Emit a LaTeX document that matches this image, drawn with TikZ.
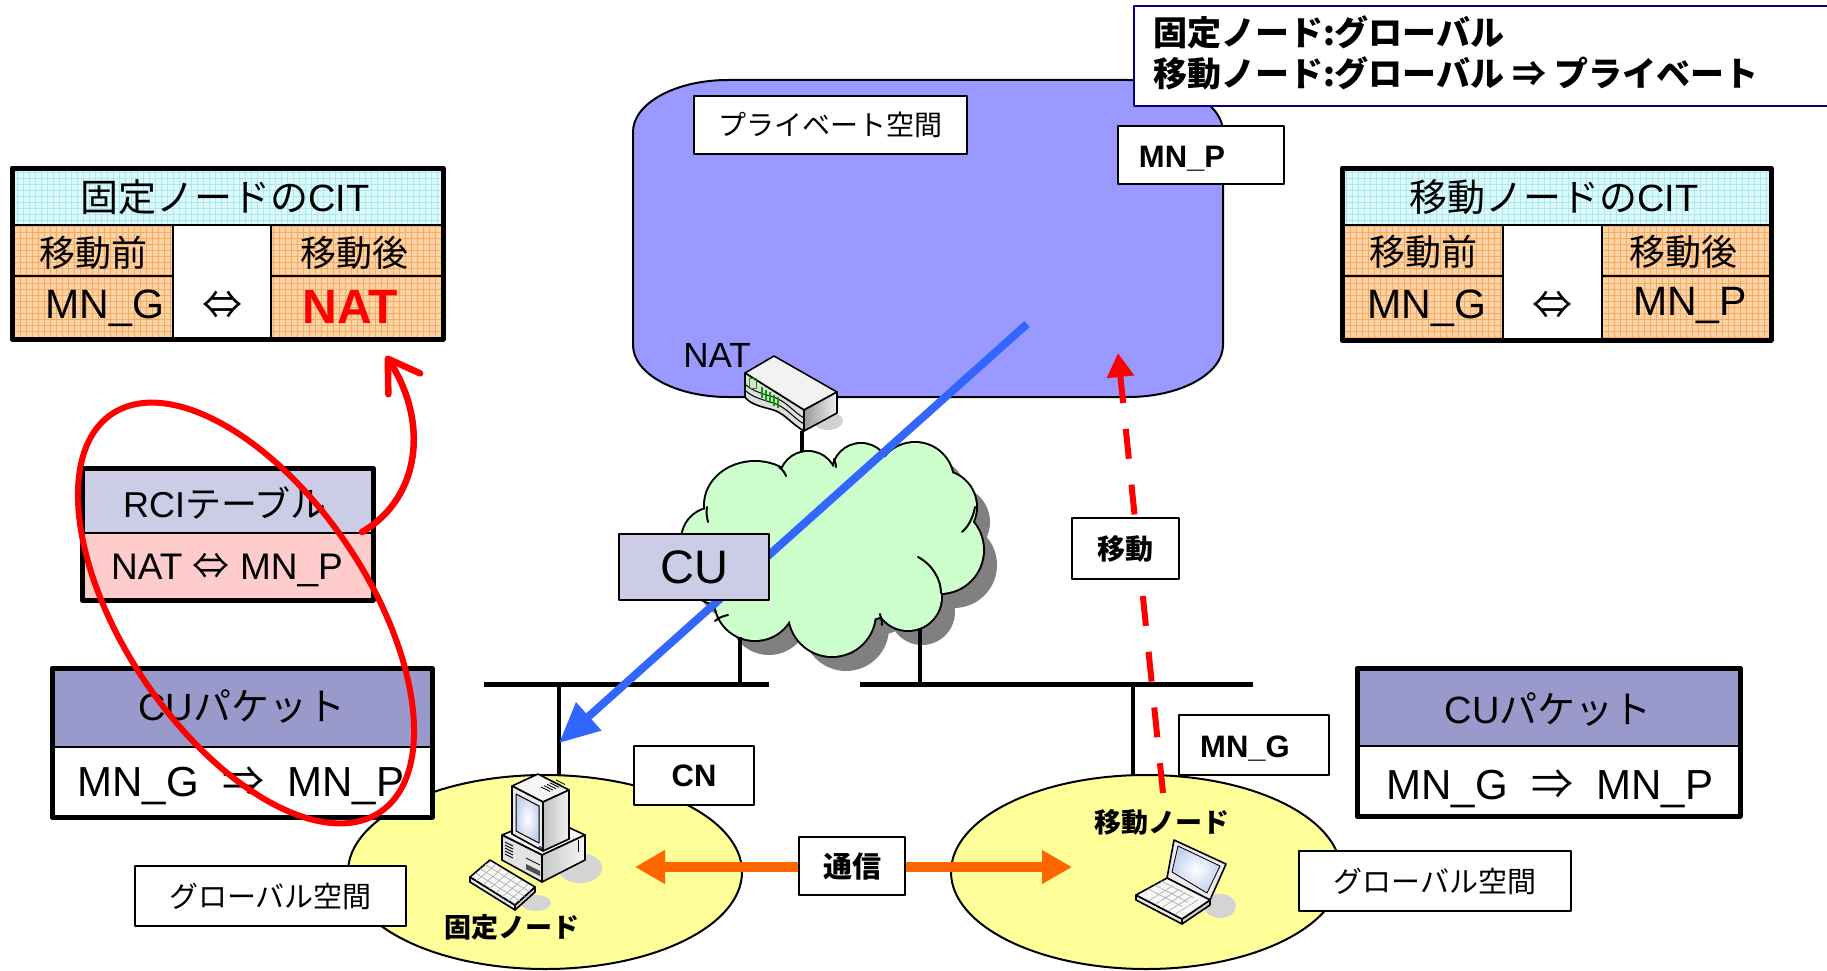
\documentclass[tikz,border=0pt]{standalone}
\usepackage{fontspec}
\setmainfont{Liberation Sans}
\newfontfamily\jp{Noto Sans CJK JP}
\usetikzlibrary{arrows.meta,shapes.geometric}

\definecolor{pvtblue}{HTML}{9999FF}
\definecolor{cloudgreen}{HTML}{CCFFCC}
\definecolor{shadowgray}{HTML}{808080}
\definecolor{lavender}{HTML}{CCCCE6}
\definecolor{hdrblue}{HTML}{9999CC}
\definecolor{rosepink}{HTML}{FFCCCC}
\definecolor{cellcyan}{HTML}{DAFDFD}
\definecolor{gridcyan}{HTML}{B5E3EE}
\definecolor{cellorange}{HTML}{FDD3A8}
\definecolor{gridorange}{HTML}{F7A95E}
\definecolor{spaceyellow}{HTML}{FFFF99}
\definecolor{linkorange}{HTML}{FF6600}
\definecolor{cublue}{HTML}{3366FF}
\definecolor{infonavy}{HTML}{000080}
\definecolor{screenblue}{HTML}{C4D2EE}
\definecolor{ledgreen}{HTML}{00A000}

\newcommand\myfs[1]{\fontsize{#1pt}{#1pt}\selectfont}
% puffs of the network cloud (union of circles)
\newcommand\cloudpuffs{(755,505) ellipse [x radius=50, y radius=43]
  (808,480) circle [radius=28] (861,472) circle [radius=28]
  (915,481) circle [radius=38] (940,507) circle [radius=36]
  (940,550) circle [radius=43] (908,597) circle [radius=33]
  (832,613) circle [radius=43] (755,600) circle [radius=40]
  (720,568) circle [radius=36] (714,540) circle [radius=32]
  (830,550) ellipse [x radius=110, y radius=75]}

\tikzset{
  tag/.style={draw, line width=2pt, fill=white, inner sep=0pt, outer sep=0pt},
  txt/.style={inner sep=0pt, outer sep=0pt},
  cell/.style={draw, line width=2.5pt, inner sep=0pt, outer sep=0pt},
  gridded/.style={path picture={\draw[#1, line width=0.6pt, step=6pt]
      (path picture bounding box.south west) grid (path picture bounding box.north east);}},
  frame/.style={draw, line width=5pt, inner sep=0pt, outer sep=0pt},
  icon/.style={draw=black, line width=1.6pt, line join=round},
  bus/.style={line width=5pt},
  crease/.style={line width=2pt, line cap=round},
}

\begin{document}
\begin{tikzpicture}[x=1pt, y=-1pt, line join=round]
\useasboundingbox (0,0) rectangle (1827,971);

% ---------- private address space ----------
\path[draw, line width=2pt, fill=pvtblue]
  (633,132) .. controls (633,103.3) and (675.5,80) .. (728,80)
  -- (1128,80) .. controls (1180.5,80) and (1223,103.3) .. (1223,132)
  -- (1223,345) .. controls (1223,373.7) and (1180.5,397) .. (1128,397)
  -- (728,397) .. controls (675.5,397) and (633,373.7) .. (633,345) -- cycle;

% ---------- address summary ----------
\node[draw=infonavy, line width=2pt, fill=white, minimum width=710pt, minimum height=100pt,
      inner sep=0pt, anchor=north west] (info) at (1133,5) {};
\node[txt, anchor=west, font=\jp\bfseries\myfs{34}] (infoA) at (1153,32) {固定ノード:グローバル};
\node[txt, anchor=west, font=\jp\bfseries\myfs{34}] (infoB) at (1153,73) {移動ノード:グローバル ⇒ プライベート};

\node[tag, minimum width=273pt, minimum height=58pt, font=\jp\myfs{28}] (pvt) at (830.5,125) {プライベート空間};
\node[tag, minimum width=166pt, minimum height=58pt] (mnpbox) at (1201,155) {};
\node[txt, anchor=base, font=\bfseries\myfs{31}] (mnp) at (1182,167) {MN\_P};

% ---------- network cloud ----------
\fill[shadowgray, shift={(14,15)}] \cloudpuffs;
\draw[line width=4pt] \cloudpuffs;
\fill[cloudgreen] \cloudpuffs;
\draw[crease] (779,467) .. controls (783,470) and (785,473) .. (786,476);
\draw[crease] (834,459) .. controls (835,462) and (836,464) .. (836,467);
\draw[crease] (975,507) .. controls (973,518) and (968,527) .. (962,532);
\draw[crease] (918,557) .. controls (933,565) and (941,580) .. (941,593);
\draw[crease] (880,614) .. controls (881,618) and (882,621) .. (882,625);
\draw[crease] (728,615) .. controls (723,616) and (718,618) .. (715,621);
\draw[crease] (707,507) .. controls (706,512) and (707,518) .. (708,522);

% ---------- NAT router ----------
\fill[black!18] (828,421) ellipse [x radius=15, y radius=9];
\filldraw[icon, fill=black!5] (745,373) -- (774,356) -- (837,392) -- (804,410) -- cycle;
\filldraw[icon, left color=black!40, right color=black!6] (804,410) -- (837,392) -- (837,413) -- (804,431) -- cycle;
\filldraw[icon, fill=black!13] (745,373) -- (804,410) -- (804,431)
  .. controls (790,423) and (784,412) .. (770,409) .. controls (758,406) and (749,403) .. (745,397) -- cycle;
\draw[line width=1pt] (746,391) .. controls (751,396) and (760,399) .. (770,402) .. controls (786,406) and (792,417) .. (804,424);
\draw[line width=1pt] (746,385) .. controls (751,390) and (760,393) .. (770,396) .. controls (786,400) and (792,411) .. (804,418);
\draw[ledgreen, line width=1pt] (749,378) rectangle (756,388);
\foreach \i in {0,...,4}
  \draw[ledgreen, line width=1.2pt] ({762+4*\i},{387+2.5*\i}) -- ++(0,11);
\coordinate (rtr) at (802,431);
\coordinate (cldtop) at (802,452);
\draw[line width=4pt] (rtr) -- (cldtop);
\node[txt, font=\myfs{35}] (natlbl) at (717,355) {NAT};

% ---------- global address spaces ----------
\node[draw, line width=2pt, fill=spaceyellow, ellipse, minimum width=394pt, minimum height=194pt, inner sep=0pt] (fsp) at (545,872) {};
\node[draw, line width=2pt, fill=spaceyellow, ellipse, minimum width=390pt, minimum height=194pt, inner sep=0pt] (msp) at (1146,872) {};

% ---------- LAN segments ----------
\coordinate (busLa) at (484,684); \coordinate (busLb) at (769,684);
\coordinate (busRa) at (860,684); \coordinate (busRb) at (1253,684);
\draw[bus] (busLa) -- (busLb);
\draw[bus] (busRa) -- (busRb);
\coordinate (cldL) at (740,637); \coordinate (cldR) at (920,628);
\draw[line width=4pt] (cldL) -- (740,684);
\draw[line width=4pt] (cldR) -- (920,684);
\coordinate (dropL) at (559,684); \coordinate (fspTop) at (559,776);
\coordinate (dropR) at (1133,684); \coordinate (mspTop) at (1133,776);
\draw[line width=4pt] (dropL) -- (fspTop);
\draw[line width=4pt] (dropR) -- (mspTop);

% ---------- fixed node (desktop PC) ----------
\fill[black!17] (580,868) ellipse [x radius=22, y radius=15];
\fill[black!17] (536,903) ellipse [x radius=15, y radius=8];
\filldraw[icon, fill=black!4] (502,835) -- (546,817) -- (585,835) -- (542,855) -- cycle;
\filldraw[icon, fill=black!11] (502,835) -- (542,855) -- (542,882) -- (502,860) -- cycle;
\filldraw[icon, left color=black!22, right color=black!4] (542,855) -- (585,835) -- (585,860) -- (542,882) -- cycle;
\foreach \i in {0,...,4} \draw[line width=0.9pt] (505,{842+3*\i}) -- (513,{846+3*\i});
\fill[black!70] (526,864) -- (540,871) -- (540,876) -- (526,869) -- cycle;
\draw[line width=0.8pt] (526,858) -- (540,865);
\draw[line width=0.8pt] (578,840) -- (578,852);
\filldraw[icon, fill=black!4] (512,786) -- (538,774) -- (569,790) -- (543,802) -- cycle;
\filldraw[icon, left color=black!25, right color=black!5] (543,802) -- (569,790) -- (569,839) -- (543,851) -- cycle;
\filldraw[icon, fill=black!8] (512,786) -- (543,802) -- (543,851) -- (512,834) -- cycle;
\filldraw[draw=black, line width=1pt, inner color=white, outer color=screenblue] (516,794) -- (539,806) -- (539,843) -- (516,831) -- cycle;
\draw[line width=0.8pt] (540,848) circle [radius=1.6];
\foreach \i in {0,...,5} \draw[line width=0.8pt] ({541+3*\i},{787-1.4*\i}) -- ++(9,4.5);
\filldraw[icon, fill=black!10] (470,877) -- (515,905) -- (515,910) -- (470,882) -- cycle;
\filldraw[icon, fill=black!18] (515,905) -- (535,887) -- (535,892) -- (515,910) -- cycle;
\filldraw[icon, fill=black!3] (470,877) -- (490,860) -- (535,887) -- (515,905) -- cycle;
\foreach \i in {1,...,3} \draw[black!35, line width=0.6pt] ({470+5*\i},{877-4.25*\i}) -- ++(45,28);
\foreach \i in {1,...,6} \draw[black!35, line width=0.6pt] ({470+6.4*\i},{877+4*\i}) -- ++(20,-17);
\node[txt, font=\jp\bfseries\myfs{27}] (fixedlbl) at (512,927) {固定ノード};

% ---------- mobile node (laptop) ----------
\fill[black!17] (1220,906) ellipse [x radius=16, y radius=12];
\filldraw[icon, fill=black!8] (1167,878) -- (1174,840) -- (1226,864) -- (1210,900) -- cycle;
\fill[inner color=white, outer color=screenblue] (1172,872) -- (1178,846) -- (1220,866) -- (1207,893) -- cycle;
\draw[line width=0.8pt] (1172,872) -- (1178,846) -- (1220,866) -- (1207,893) -- cycle;
\filldraw[icon, fill=black!10] (1136,895) -- (1182,919) -- (1182,924) -- (1136,900) -- cycle;
\filldraw[icon, fill=black!20] (1182,919) -- (1210,900) -- (1210,905) -- (1182,924) -- cycle;
\filldraw[icon, fill=black!3] (1136,895) -- (1167,878) -- (1210,900) -- (1182,919) -- cycle;
\foreach \i in {1,...,3} \draw[black!35, line width=0.6pt] ({1142+6*\i},{893-4.2*\i}) -- ++(34,17.5);
\foreach \i in {1,...,5} \draw[black!35, line width=0.6pt] ({1143+6.5*\i},{897+3.4*\i}) -- ++(23,-14.5);
\node[txt, font=\jp\bfseries\myfs{27}] (mobilelbl) at (1162,822) {移動ノード};

% ---------- communication ----------
\coordinate (comL) at (635,867); \coordinate (comR) at (1072,867);
\draw[linkorange, line width=10pt, {Triangle[length=30pt,width=32pt]}-{Triangle[length=30pt,width=32pt]}] (comL) -- (comR);
\node[tag, minimum width=106pt, minimum height=58pt, font=\jp\bfseries\myfs{29}] (tsushin) at (852,866) {通信};

% ---------- CU message ----------
\coordinate (cuFrom) at (1027,324); \coordinate (cuTo) at (559,743);
\draw[cublue, line width=8pt, -{Triangle[length=40pt,width=36pt]}] (cuFrom) -- (cuTo);
\node[tag, fill=lavender, minimum width=150pt, minimum height=66pt, font=\myfs{47}] (cu) at (694,567) {CU};

% ---------- movement ----------
\coordinate (mvFrom) at (1163,793); \coordinate (mvTo) at (1118,353);
\draw[red, line width=6pt, dash pattern=on 30pt off 26pt, -{Triangle[length=24pt,width=26pt]}] (mvFrom) -- (mvTo);
\node[tag, minimum width=107pt, minimum height=61pt, font=\jp\bfseries\myfs{28}] (idou) at (1125.5,548.5) {移動};

% ---------- address labels ----------
\node[tag, minimum width=120pt, minimum height=59pt, font=\bfseries\myfs{31}] (cn) at (694,775.5) {CN};
\node[tag, minimum width=150pt, minimum height=60pt] (mngbox) at (1254,745) {};
\node[txt, anchor=base, font=\bfseries\myfs{31}] (mng) at (1245,757) {MN\_G};
\node[tag, minimum width=271pt, minimum height=60pt, font=\jp\myfs{29}] (gspL) at (270.5,896) {グローバル空間};
\node[tag, minimum width=272pt, minimum height=60pt, font=\jp\myfs{29}] (gspR) at (1435,881) {グローバル空間};

% ---------- CIT of the fixed node ----------
\node[cell, fill=cellcyan, gridded=gridcyan, minimum width=431pt, minimum height=57pt] (fcitHead) at (227.5,196.5) {};
\node[cell, fill=cellorange, gridded=gridorange, minimum width=161pt, minimum height=51pt] (fcitPreHd) at (92.5,250.5) {};
\node[cell, fill=white, minimum width=98pt, minimum height=114pt] (fcitMid) at (222,282) {};
\node[cell, fill=cellorange, gridded=gridorange, minimum width=172pt, minimum height=51pt] (fcitPostHd) at (357,250.5) {};
\node[cell, fill=cellorange, gridded=gridorange, minimum width=161pt, minimum height=63pt] (fcitPre) at (92.5,307.5) {};
\node[cell, fill=cellorange, gridded=gridorange, minimum width=172pt, minimum height=63pt] (fcitPost) at (357,307.5) {};
\node[frame, minimum width=431pt, minimum height=171pt] (fcit) at (227.5,253.5) {};
\node[txt, font=\jp\myfs{38}] (fcitT) at (225,197) {固定ノードの{\rmfamily CIT}};
\node[txt, font=\jp\myfs{36}] (fcitA) at (93,253) {移動前};
\node[txt, font=\jp\myfs{36}] (fcitB) at (354,253) {移動後};
\node[txt, anchor=base, font=\myfs{41}] (fcitC) at (105,318) {MN\_G};
\node[txt, font=\jp\myfs{40}] (fcitD) at (222,305) {⇔};
\node[txt, anchor=base, text=red, font=\bfseries\myfs{48}] (fcitE) at (350,323) {NAT};

% ---------- CIT of the mobile node ----------
\node[cell, fill=cellcyan, gridded=gridcyan, minimum width=429pt, minimum height=57pt] (mcitHead) at (1556.5,196.5) {};
\node[cell, fill=cellorange, gridded=gridorange, minimum width=161pt, minimum height=51pt] (mcitPreHd) at (1422.5,250.5) {};
\node[cell, fill=white, minimum width=99pt, minimum height=114pt] (mcitMid) at (1552.5,282) {};
\node[cell, fill=cellorange, gridded=gridorange, minimum width=169pt, minimum height=51pt] (mcitPostHd) at (1686.5,250.5) {};
\node[cell, fill=cellorange, gridded=gridorange, minimum width=161pt, minimum height=63pt] (mcitPre) at (1422.5,307.5) {};
\node[cell, fill=cellorange, gridded=gridorange, minimum width=169pt, minimum height=63pt] (mcitPost) at (1686.5,307.5) {};
\node[frame, minimum width=429pt, minimum height=172pt] (mcit) at (1556.5,254) {};
\node[txt, font=\jp\myfs{38}] (mcitT) at (1554,197) {移動ノードの{\rmfamily CIT}};
\node[txt, font=\jp\myfs{36}] (mcitA) at (1423,252) {移動前};
\node[txt, font=\jp\myfs{36}] (mcitB) at (1683,252) {移動後};
\node[txt, anchor=base, font=\myfs{41}] (mcitC) at (1427,318) {MN\_G};
\node[txt, font=\jp\myfs{40}] (mcitD) at (1552,305) {⇔};
\node[txt, anchor=base, font=\myfs{41}] (mcitE) at (1690,315) {MN\_P};

% ---------- RCI table ----------
\node[cell, fill=lavender, minimum width=291pt, minimum height=65pt] (rciHead) at (227.5,500.5) {};
\node[cell, fill=rosepink, minimum width=291pt, minimum height=67pt] (rciBody) at (227.5,566.5) {};
\node[frame, minimum width=291pt, minimum height=132pt] (rci) at (227.5,534) {};
\node[txt, font=\jp\myfs{36}] (rciT) at (225,503) {{\rmfamily RCI}テーブル};
\node[txt, anchor=base, font=\myfs{37}] (rciE) at (227,579) {NAT {\jp ⇔} MN\_P};

% ---------- CU packets ----------
\node[cell, fill=hdrblue, minimum width=380pt, minimum height=79pt] (cupLHead) at (242,707.5) {};
\node[cell, fill=white, minimum width=380pt, minimum height=70pt] (cupLBody) at (242,782) {};
\node[frame, minimum width=380pt, minimum height=149pt] (cupL) at (242,742.5) {};
\node[txt, font=\jp\myfs{38}] (cupLT) at (242,707) {{\rmfamily CU}パケット};
\node[txt, anchor=base, font=\myfs{42}] (cupLE) at (241,796) {MN\_G\ \ {\jp ⇒}\ \ MN\_P};

\node[cell, fill=hdrblue, minimum width=383pt, minimum height=78pt] (cupRHead) at (1548.5,707) {};
\node[cell, fill=white, minimum width=383pt, minimum height=70pt] (cupRBody) at (1548.5,781) {};
\node[frame, minimum width=383pt, minimum height=148pt] (cupR) at (1548.5,742) {};
\node[txt, font=\jp\myfs{38}] (cupRT) at (1548,710) {{\rmfamily CU}パケット};
\node[txt, anchor=base, font=\myfs{42}] (cupRE) at (1550,799) {MN\_G\ \ {\jp ⇒}\ \ MN\_P};

% ---------- highlight and update ----------
\draw[red, line width=6pt, rotate around={-56:(246,613)}] (246,613) ellipse [x radius=240, y radius=122];
\coordinate (updFrom) at (362,532); \coordinate (updTo) at (386,356);
\draw[red, line width=6.5pt, line cap=round, -{Straight Barb[length=30pt,width=38pt,round]}]
  (updFrom) .. controls (422,497) and (428,420) .. (updTo);
\end{tikzpicture}
\end{document}
